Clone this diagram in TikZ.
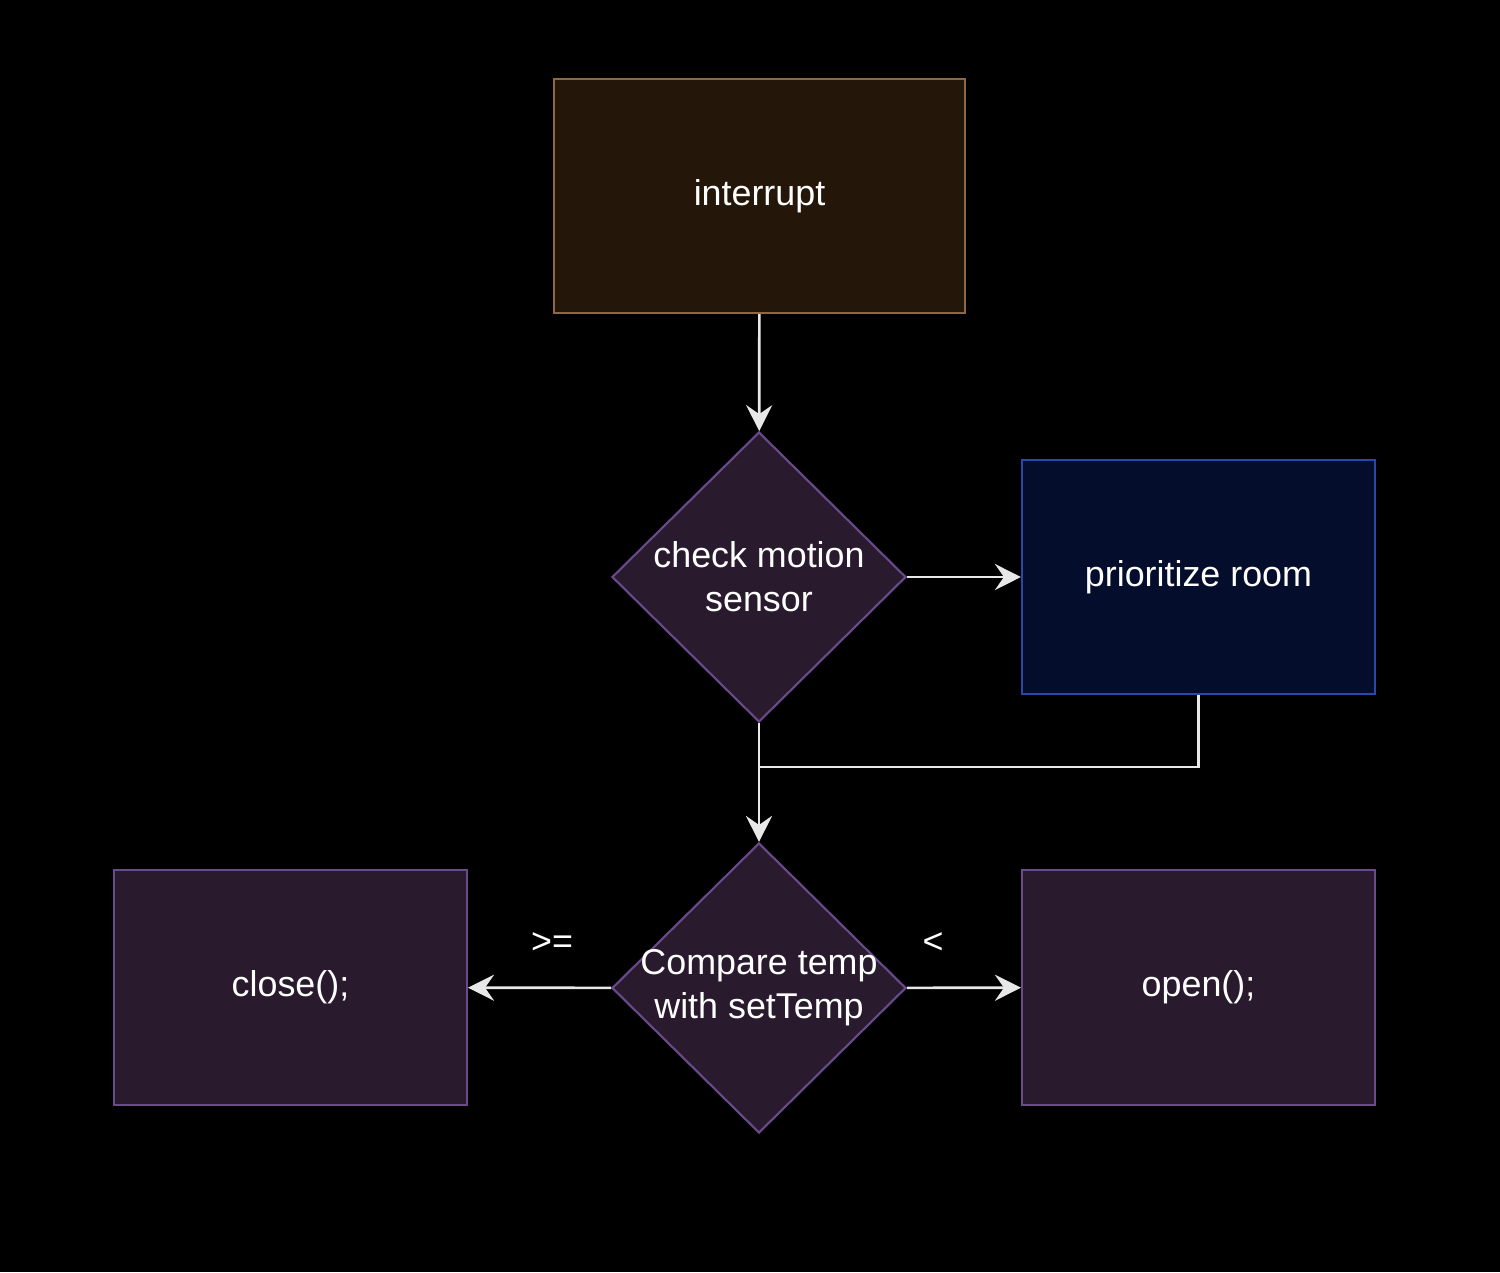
\documentclass[tikz,border=0pt]{standalone}
\usepackage{fontspec}
\setmainfont{Liberation Sans}
\usetikzlibrary{positioning,arrows.meta,shapes.geometric}
\definecolor{bgblack}{HTML}{000000}
\definecolor{brnfill}{HTML}{24170A}
\definecolor{brnline}{HTML}{8C6A45}
\definecolor{purfill}{HTML}{291A2E}
\definecolor{purline}{HTML}{6A4A8C}
\definecolor{blufill}{HTML}{050D2C}
\definecolor{bluline}{HTML}{2A48A8}
\definecolor{wirecol}{HTML}{E8E8E8}
\tikzset{
  lbl/.style={font=\fontsize{10.2}{12.5}\selectfont,text=white,align=center},
  procbox/.style={rectangle,draw=purline,fill=purfill,line width=0.6pt,
    minimum width=3.53cm,minimum height=2.35cm,lbl},
  startbox/.style={procbox,draw=brnline,fill=brnfill,minimum width=4.11cm,minimum height=2.34cm},
  prbox/.style={procbox,draw=bluline,fill=blufill,minimum height=2.34cm},
  decide/.style={diamond,draw=purline,fill=purfill,line width=0.6pt,inner sep=0pt,
    minimum width=2.94cm,minimum height=2.90cm},
  flow/.style={-{Stealth[length=2.6mm,width=2.6mm,inset=0.9mm]},line width=0.75pt,draw=wirecol},
  wire/.style={line width=0.75pt,draw=wirecol},
  cmp/.style={font=\fontsize{10.2}{12.5}\selectfont,text=white},
}
\begin{document}
\begin{tikzpicture}
  % black page, fixed size
  \fill[bgblack] (0,0) rectangle (15,-12.72);
  \useasboundingbox (0,0) rectangle (15,-12.72);
  % nodes
  \node[startbox] (intr) at (7.595,-1.96) {interrupt};
  \node[decide,label={[lbl]center:check motion\\sensor}] (motion) at (7.59,-5.77) {};
  \node[prbox] (prio) at (11.985,-5.77) {prioritize room};
  \node[decide,label={[lbl]center:Compare temp\\with setTemp}] (cmpt) at (7.59,-9.88) {};
  \node[procbox] (close) at (2.905,-9.875) {close();};
  \node[procbox] (open) at (11.985,-9.875) {open();};
  \coordinate (jn) at (7.59,-7.67);
  % connectors
  \draw[flow] (intr) -- (motion);
  \draw[flow] (motion) -- (prio);
  \draw[flow] (motion) -- (cmpt);
  \draw[wire] (prio.south) |- (jn);
  \draw[flow] (cmpt) -- (close);
  \draw[flow] (cmpt) -- (open);
  % branch marks
  \node[cmp] (ge) at (5.52,-9.43) {>=};
  \node[cmp] (lt) at (9.33,-9.43) {<};
\end{tikzpicture}
\end{document}
